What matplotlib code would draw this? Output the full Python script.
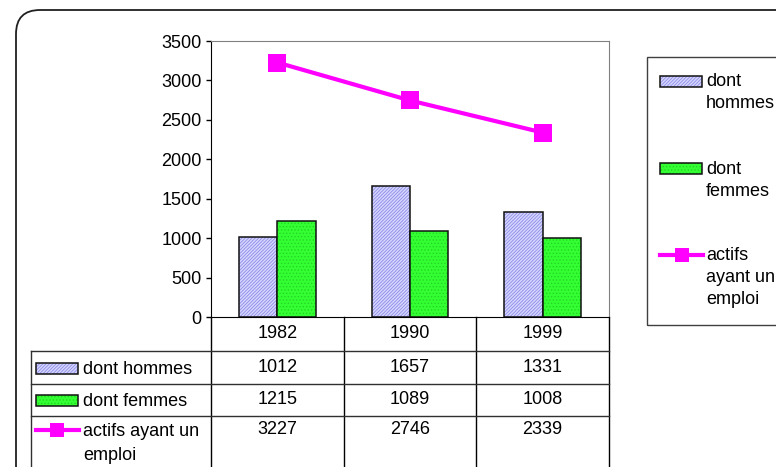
import textwrap
import numpy as np
import matplotlib
matplotlib.use("Agg")
import matplotlib.pyplot as plt
from matplotlib.patches import Rectangle, FancyBboxPatch
from matplotlib.lines import Line2D
from matplotlib.transforms import blended_transform_factory

# values per census year
years = ['1982', '1990', '1999']
hommes = [1012, 1657, 1331]
femmes = [1215, 1089, 1008]
actifs = [3227, 2746, 2339]
names = ['dont hommes', 'dont femmes', 'actifs ayant un emploi']
y_ticks = [0, 500, 1000, 1500, 2000, 2500, 3000, 3500]

plt.rcParams['font.family'] = ['Liberation Sans', 'DejaVu Sans']
plt.rcParams['hatch.linewidth'] = 0.6
FS = 13
H_HATCH, H_FACE, H_LINE = '//////////', '#d6d6ff', '#8c8ce6'
F_HATCH, F_FACE, F_LINE = '.....', '#33ff33', '#22d622'

W, H = 776, 467
fig = plt.figure(figsize=(W / 100, H / 100), dpi=100)
inch = fig.dpi_scale_trans


def P(x, y):
    # pixel position (from top-left) -> inches for dpi_scale_trans
    return x / 100, (H - y) / 100


# rounded outer frame, running off the right and bottom edges
fig.patches.append(FancyBboxPatch(P(16, 490), 8.0, 4.8,
                                  boxstyle='round,pad=0,rounding_size=0.24',
                                  transform=inch, facecolor='none',
                                  edgecolor='#202020', lw=1.3))

ax = fig.add_axes([211 / W, 1 - 317 / H, (609 - 211) / W, (317 - 41) / H])
x = np.arange(len(years))
w = 0.29

# bars: hatched fill first, then black outline on top
ax.bar(x - w / 2, hommes, w, color=H_FACE, hatch=H_HATCH, edgecolor=H_LINE, lw=0)
ax.bar(x - w / 2, hommes, w, fill=False, edgecolor='#111111', lw=1.1)
ax.bar(x + w / 2, femmes, w, color=F_FACE, hatch=F_HATCH, edgecolor=F_LINE, lw=0)
ax.bar(x + w / 2, femmes, w, fill=False, edgecolor='#111111', lw=1.1)

ax.plot(x, actifs, color='#ff00ff', lw=3, marker='s', ms=13, mew=0,
        zorder=5, clip_on=False)

ax.set_xlim(-0.5, 2.5)
ax.set_ylim(0, 3500)
ax.set_yticks(y_ticks)
ax.set_xticks([])
ax.tick_params(axis='y', direction='out', length=3.6, width=1, pad=3,
               labelsize=FS)
for s in ['top', 'right']:
    ax.spines[s].set_color('#808080')
for s in ['left', 'bottom']:
    ax.spines[s].set_color('black')

# ---- data table under the plot ----
colx = blended_transform_factory(ax.transData, inch)
edges = np.arange(len(years) + 1) - 0.5
row_lines = [351, 384, 416]
for e in edges:
    ax.add_line(Line2D([e, e], [P(0, 317)[1], P(0, 490)[1]], transform=colx,
                       color='black', lw=1, clip_on=False))
fig.add_artist(Line2D([0.31, 0.31], [P(0, 351)[1], P(0, 490)[1]],
                      transform=inch, color='#303030', lw=1))
for r in row_lines:
    fig.add_artist(Line2D([0.31, 6.09], [P(0, r)[1]] * 2, transform=inch,
                          color='#303030', lw=1))

for i, yr in enumerate(years):
    ax.text(i, P(0, 334)[1], yr, transform=colx, ha='center', va='center',
            fontsize=FS, clip_on=False)


def key(kind, x0, yc, ms=9.4):
    if kind in (0, 1):
        face, hatch, hline = [(H_FACE, H_HATCH, H_LINE), (F_FACE, F_HATCH, F_LINE)][kind]
        fig.patches.append(Rectangle(P(x0, yc + 5.5), 0.42, 0.11, transform=inch,
                                     facecolor=face, hatch=hatch,
                                     edgecolor=hline, lw=0))
        fig.patches.append(Rectangle(P(x0, yc + 5.5), 0.42, 0.11, transform=inch,
                                     fill=False, edgecolor='#111111', lw=1.1))
    else:
        fig.add_artist(Line2D([x0 / 100, (x0 + 43) / 100], [P(0, yc)[1]] * 2,
                              transform=inch, color='#ff00ff', lw=3))
        fig.add_artist(Line2D([(x0 + 21.5) / 100], [P(0, yc)[1]], transform=inch,
                              color='#ff00ff', marker='s', ms=ms, mew=0, lw=0))


def lines_at(text_lines, x0, yc, step=22):
    for j, t in enumerate(text_lines):
        fig.text(*P(x0, yc + 6.5 + j * step), t, transform=inch, ha='left',
                 va='baseline', fontsize=FS)


table_rows = [(368, hommes), (400, femmes), (430, actifs)]
for k, (yc, vals) in enumerate(table_rows):
    key(k, 36, yc)
    lines_at(textwrap.wrap(names[k], 15), 83, yc, step=23)
    for i, v in enumerate(vals):
        ax.text(i, P(0, yc)[1], str(v), transform=colx, ha='center',
                va='center', fontsize=FS, clip_on=False)

# ---- legend box on the right ----
fig.patches.append(Rectangle(P(647, 325), 1.6, (325 - 57) / 100, transform=inch,
                             facecolor='none', edgecolor='#404040', lw=1))
legend_rows = [81, 168, 255]
for k, yc in enumerate(legend_rows):
    key(k, 660, yc)
    lines_at(textwrap.wrap(names[k], 8), 706, yc - 1)

fig.savefig('out.png', dpi=100)
